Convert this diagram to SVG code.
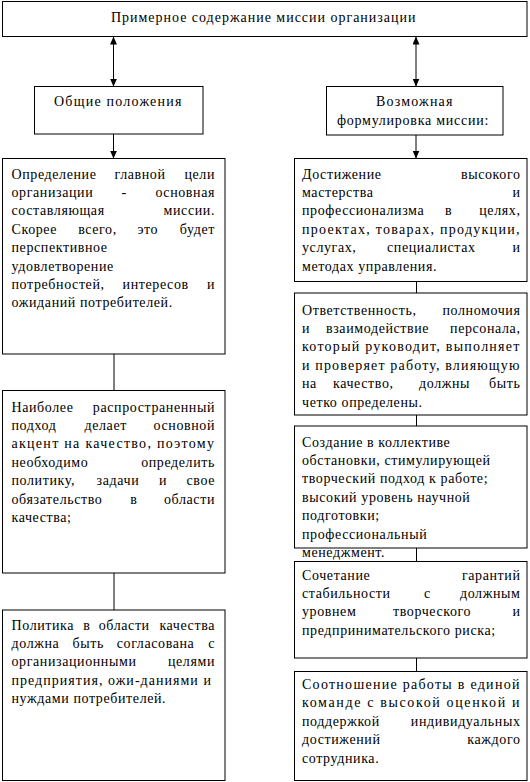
<svg xmlns="http://www.w3.org/2000/svg" width="530" height="782" viewBox="0 0 530 782">
<style>
.box{fill:#fff;stroke:#000;stroke-width:1}
.c{stroke:#000;stroke-width:1;fill:none}
.t{font-family:"Liberation Serif","DejaVu Serif","Times New Roman",serif;font-size:14px;letter-spacing:0.6px;fill:#000}
.m{text-anchor:middle}
.e{text-anchor:end}
</style>
<defs>
<marker id="ah" viewBox="0 0 8 7" refX="8" refY="3.5" markerWidth="8" markerHeight="7" markerUnits="userSpaceOnUse" orient="auto-start-reverse">
<path d="M0,0 L8,3.5 L0,7 z" fill="#000"/>
</marker>
</defs>
<rect width="530" height="782" fill="#fff"/>
<g id="connectors">
<line class="c" x1="113.5" y1="36.5" x2="113.5" y2="86.5" marker-start="url(#ah)" marker-end="url(#ah)"/>
<line class="c" x1="416" y1="36.5" x2="416" y2="86.5" marker-start="url(#ah)" marker-end="url(#ah)"/>
<line class="c" x1="113.5" y1="134" x2="113.5" y2="158.5" marker-end="url(#ah)"/>
<line class="c" x1="416" y1="135" x2="416" y2="158.5" marker-end="url(#ah)"/>
<line class="c" x1="114" y1="354" x2="114" y2="390.5"/>
<line class="c" x1="114" y1="573" x2="114" y2="610"/>
<line class="c" x1="416.5" y1="281.5" x2="416.5" y2="293"/>
<line class="c" x1="416.5" y1="415" x2="416.5" y2="426"/>
<line class="c" x1="416.5" y1="548" x2="416.5" y2="561.5"/>
<line class="c" x1="416.5" y1="658" x2="416.5" y2="671.5"/>
</g>
<g id="top">
<rect class="box" x="2.5" y="1.5" width="524.5" height="35"/>
<text class="t" x="111" y="21.5" textLength="305">Примерное содержание миссии организации</text>
</g>
<g id="general">
<rect class="box" x="34.5" y="86.5" width="168.5" height="47.5"/>
<text class="t" x="54" y="106" textLength="128">Общие положения</text>
</g>
<g id="formulation">
<rect class="box" x="326.5" y="86.5" width="176.5" height="48.5"/>
<text class="t" x="376" y="106" textLength="77">Возможная</text>
<text class="t" x="337" y="124.5" textLength="152">формулировка миссии:</text>
</g>
<g id="left1">
<rect class="box" x="2.5" y="158.5" width="222.5" height="195.5"/>
<text class="t" y="178.5"><tspan x="11.5">Определение</tspan><tspan x="114.5">главной</tspan><tspan x="215" class="e">цели</tspan></text>
<text class="t" y="196.9"><tspan x="11.5">организации</tspan><tspan x="121.6">-</tspan><tspan x="215" class="e">основная</tspan></text>
<text class="t" y="215.3"><tspan x="11.5">составляющая</tspan><tspan x="215" class="e">миссии.</tspan></text>
<text class="t" y="233.7"><tspan x="11.5">Скорее</tspan><tspan x="78.2">всего,</tspan><tspan x="137.4">это</tspan><tspan x="215" class="e">будет</tspan></text>
<text class="t" x="11.5" y="252.1">перспективное</text>
<text class="t" x="11.5" y="270.5">удовлетворение</text>
<text class="t" y="288.9"><tspan x="11.5">потребностей,</tspan><tspan x="122.6">интересов</tspan><tspan x="215" class="e">и</tspan></text>
<text class="t" x="11.5" y="307.3">ожиданий потребителей.</text>
</g>
<g id="left2">
<rect class="box" x="2.5" y="390.5" width="222.5" height="182.5"/>
<text class="t" y="411.5"><tspan x="11.5">Наиболее</tspan><tspan x="215" class="e">распространенный</tspan></text>
<text class="t" y="429.9"><tspan x="11.5">подход</tspan><tspan x="84.5">делает</tspan><tspan x="215" class="e">основной</tspan></text>
<text class="t" x="11.5" y="448.3" textLength="203" lengthAdjust="spacing">акцент на качество, поэтому</text>
<text class="t" y="466.7"><tspan x="11.5">необходимо</tspan><tspan x="215" class="e">определить</tspan></text>
<text class="t" y="485.1"><tspan x="11.5">политику,</tspan><tspan x="96.6">задачи</tspan><tspan x="159.1">и</tspan><tspan x="215" class="e">свое</tspan></text>
<text class="t" y="503.5"><tspan x="11.5">обязательство</tspan><tspan x="130.2">в</tspan><tspan x="215" class="e">области</tspan></text>
<text class="t" x="11.5" y="521.9">качества;</text>
</g>
<g id="left3">
<rect class="box" x="2.5" y="610" width="222.5" height="170.5"/>
<text class="t" y="629.5"><tspan x="11.5">Политика</tspan><tspan x="83.2">в</tspan><tspan x="98.7">области</tspan><tspan x="215" class="e">качества</tspan></text>
<text class="t" y="647.9"><tspan x="11.5">должна</tspan><tspan x="72.5">быть</tspan><tspan x="116.8">согласована</tspan><tspan x="215" class="e">с</tspan></text>
<text class="t" y="666.3"><tspan x="11.5">организационными</tspan><tspan x="215" class="e">целями</tspan></text>
<text class="t" x="11.5" y="684.7" textLength="200" lengthAdjust="spacing">предприятия, ожи-даниями и</text>
<text class="t" x="11.5" y="703.1">нуждами потребителей.</text>
</g>
<g id="right1">
<rect class="box" x="294.5" y="158.5" width="232.5" height="123"/>
<text class="t" y="178.5"><tspan x="302">Достижение</tspan><tspan x="520.5" class="e">высокого</tspan></text>
<text class="t" y="196.9"><tspan x="302">мастерства</tspan><tspan x="520.5" class="e">и</tspan></text>
<text class="t" y="215.3"><tspan x="302">профессионализма</tspan><tspan x="445">в</tspan><tspan x="520.5" class="e">целях,</tspan></text>
<text class="t" x="302" y="233.7" textLength="218" lengthAdjust="spacing">проектах, товарах, продукции,</text>
<text class="t" y="252.1"><tspan x="302">услугах,</tspan><tspan x="387">специалистах</tspan><tspan x="520.5" class="e">и</tspan></text>
<text class="t" x="302" y="270.5">методах управления.</text>
</g>
<g id="right2">
<rect class="box" x="294.5" y="293" width="232.5" height="122"/>
<text class="t" y="314.5"><tspan x="302">Ответственность,</tspan><tspan x="520.5" class="e">полномочия</tspan></text>
<text class="t" y="332.9"><tspan x="302">и</tspan><tspan x="326">взаимодействие</tspan><tspan x="520.5" class="e">персонала,</tspan></text>
<text class="t" x="302" y="351.3" textLength="218" lengthAdjust="spacing">который руководит, выполняет</text>
<text class="t" x="302" y="369.7" textLength="218" lengthAdjust="spacing">и проверяет работу, влияющую</text>
<text class="t" y="388.1"><tspan x="302">на</tspan><tspan x="333">качество,</tspan><tspan x="419">должны</tspan><tspan x="520.5" class="e">быть</tspan></text>
<text class="t" x="302" y="406.5">четко определены.</text>
</g>
<g id="right3">
<rect class="box" x="294.5" y="426" width="232.5" height="122"/>
<text class="t" x="302" y="446.5">Создание в коллективе</text>
<text class="t" x="302" y="464.9">обстановки, стимулирующей</text>
<text class="t" x="302" y="483.3">творческий подход к работе;</text>
<text class="t" x="302" y="501.7">высокий уровень научной</text>
<text class="t" x="302" y="520.1">подготовки;</text>
<text class="t" x="302" y="538.5">профессиональный</text>
<text class="t" x="302" y="556.9">менеджмент.</text>
</g>
<g id="right4">
<rect class="box" x="294.5" y="561.5" width="232.5" height="96.5"/>
<text class="t" y="579.5"><tspan x="302">Сочетание</tspan><tspan x="520.5" class="e">гарантий</tspan></text>
<text class="t" y="597.9"><tspan x="302">стабильности</tspan><tspan x="424">с</tspan><tspan x="520.5" class="e">должным</tspan></text>
<text class="t" y="616.3"><tspan x="302">уровнем</tspan><tspan x="393">творческого</tspan><tspan x="520.5" class="e">и</tspan></text>
<text class="t" x="302" y="634.7">предпринимательского риска;</text>
</g>
<g id="right5">
<rect class="box" x="294.5" y="671.5" width="232.5" height="109"/>
<text class="t" x="302" y="689" textLength="218" lengthAdjust="spacing">Соотношение работы в единой</text>
<text class="t" x="302" y="707.4" textLength="218" lengthAdjust="spacing">команде с высокой оценкой и</text>
<text class="t" y="725.8"><tspan x="302">поддержкой</tspan><tspan x="520.5" class="e">индивидуальных</tspan></text>
<text class="t" y="744.2"><tspan x="302">достижений</tspan><tspan x="520.5" class="e">каждого</tspan></text>
<text class="t" x="302" y="762.6">сотрудника.</text>
</g>
</svg>
